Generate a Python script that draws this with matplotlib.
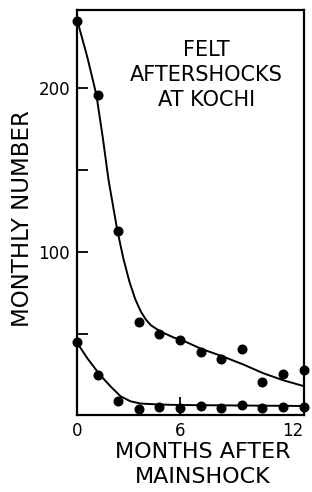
import matplotlib
matplotlib.use("Agg")
import matplotlib.pyplot as plt

# monthly counts of felt aftershocks
months = [1, 2, 3, 4, 5, 6, 7, 8, 9, 10, 11, 12]
upper_counts = [241, 196, 113, 57, 50, 46, 38.6, 34.3, 40.4, 20.3, 25.2, 27.6]
lower_counts = [44.7, 24.6, 8.7, 3.8, 5.1, 4.4, 5.7, 4.4, 6.3, 4.4, 5.1, 5.1]

# hand-drawn fitted curves, sampled from the figure
upper_fit_x = [1.0, 1.5, 1.94, 2.25, 2.53, 2.95, 3.25, 3.54, 3.83, 4.1, 4.35,
               4.6, 5.05, 5.68, 6.02, 7.02, 8.03, 9.05, 10.05, 11.02, 12.0]
upper_fit_y = [242, 219, 196, 170, 144, 113.6, 96, 82, 71, 63.5, 58.5,
               55, 51.4, 47.7, 46.5, 40.8, 36.3, 31.3, 25.8, 21.5, 18]
lower_fit_x = [1.0, 1.5, 2.09, 2.62, 3.11, 3.59, 4.08, 5.0, 6.0, 8.0, 10.0, 12.0]
lower_fit_y = [44.5, 35.0, 25.2, 17.9, 11.8, 8.7, 7.3, 6.7, 6.4, 6.2, 6.0, 5.8]

x_ticks = [1, 6, 12]
x_ticklabels = ['0', '6', '12']
y_ticks = [50, 100, 150, 200]
y_ticklabels = ['', '100', '', '200']

plt.rcParams['font.family'] = 'DejaVu Sans'

fig = plt.figure(figsize=(3.12, 4.92), dpi=100)
ax = fig.add_axes([0.2468, 0.1555, 0.726, 0.825])

ax.plot(upper_fit_x, upper_fit_y, color='black', lw=1.4)
ax.plot(lower_fit_x, lower_fit_y, color='black', lw=1.4)
ax.plot(months, upper_counts, 'o', color='black', ms=6.2, clip_on=False)
ax.plot(months, lower_counts, 'o', color='black', ms=6.2, clip_on=False)

ax.set_xlim(1, 12)
ax.set_ylim(0, 248)

ax.set_xticks(x_ticks, x_ticklabels)
ax.set_yticks(y_ticks, y_ticklabels)
ax.tick_params(axis='both', direction='in', width=1.3, labelsize=12, pad=5)
ax.tick_params(axis='y', length=8)
ax.tick_params(axis='x', length=13)
# last label sits flush against the right edge, as in the original
ax.get_xticklabels()[-1].set_ha('right')

for s in ax.spines.values():
    s.set_linewidth(1.6)

ax.set_ylabel('MONTHLY NUMBER', fontsize=16.5)
ax.yaxis.set_label_coords(-0.19, 0.484)
ax.set_xlabel('MONTHS AFTER\nMAINSHOCK', fontsize=16, linespacing=1.3)
ax.xaxis.set_label_coords(0.556, -0.065)

ax.text(0.57, 0.925, 'FELT\nAFTERSHOCKS\nAT KOCHI', transform=ax.transAxes,
        ha='center', va='top', fontsize=15, linespacing=1.3, multialignment='center')

fig.savefig('out.png', dpi=100)
